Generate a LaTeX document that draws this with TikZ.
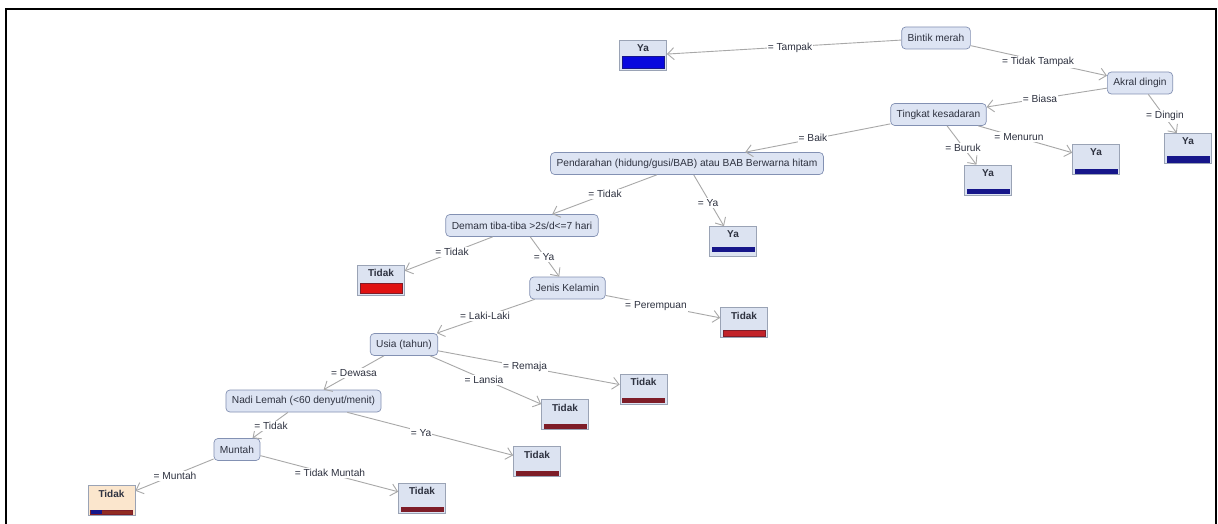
\documentclass[tikz,border=0pt]{standalone}
\usepackage{fontspec}
\setmainfont{Liberation Sans}
\usetikzlibrary{arrows.meta,calc}
\definecolor{decfill}{HTML}{DDE4F3}
\definecolor{decdraw}{HTML}{8391B3}
\definecolor{leafbg}{HTML}{DCE3F1}
\definecolor{leafdraw}{HTML}{9AA3B5}
\definecolor{edgecol}{HTML}{A8A8A8}
\definecolor{navybar}{HTML}{16168A}
\definecolor{bluebar}{HTML}{0808DE}
\definecolor{redbar}{HTML}{E01212}
\definecolor{midred}{HTML}{C2232A}
\definecolor{darkred}{HTML}{7E1D28}
\definecolor{peach}{HTML}{FBE6CD}
\definecolor{txtcol}{HTML}{2E3240}
\newcommand\leafbar[5]{% node, bottom gap, top gap, fill, draw
  \filldraw[fill=#4,draw=#5,line width=0.6pt] ($(#1.south west)+(3,-#2)$) rectangle ($(#1.south east)+(-3,-#3)$);}
\begin{document}
\begin{tikzpicture}[x=1pt,y=-1pt,
  dec/.style={draw=decdraw, fill=decfill, rounded corners=4pt, minimum height=22pt, inner xsep=6pt, font=\fontsize{10.2}{11}\selectfont, text=txtcol, line width=0.7pt},
  leaf/.style={draw=leafdraw, fill=leafbg, minimum width=47pt, minimum height=30pt, inner sep=0pt, line width=0.7pt},
  leaftxt/.style={font=\bfseries\fontsize{10}{11}\selectfont, text=txtcol, anchor=north, inner sep=0pt},
  lab/.style={fill=white, inner sep=1pt, font=\fontsize{10.2}{11}\selectfont, text=txtcol},
  conn/.style={draw=edgecol, line width=0.9pt, -{Straight Barb[length=6.5pt,width=12pt]}},
]
\useasboundingbox (0,0) rectangle (1218,524);
\fill[white] (0,0) rectangle (1218,524);
\draw[line width=2pt] (6,524) -- (6,9.5) -- (1215.5,9.5) -- (1215.5,524);

% decision nodes
\node[dec] (B) at (936,38) {Bintik merah};
\node[dec] (A) at (1140,83) {Akral dingin};
\node[dec] (K) at (938.5,114.5) {Tingkat kesadaran};
\node[dec] (P) at (687,163.5) {Pendarahan (hidung/gusi/BAB) atau BAB Berwarna hitam};
\node[dec] (D) at (522,225.5) {Demam tiba-tiba >2s/d<=7 hari};
\node[dec] (J) at (567.5,288) {Jenis Kelamin};
\node[dec] (U) at (404,344.5) {Usia (tahun)};
\node[dec] (N) at (303.5,401) {Nadi Lemah (<60 denyut/menit)};
\node[dec] (M) at (237,449.5) {Muntah};

% leaves
\node[leaf] (Y1) at (643,55.5) {};
\node[leaf] (Y2) at (1188,148.5) {};
\node[leaf] (Y3) at (1096,159.5) {};
\node[leaf] (Y4) at (988,180) {};
\node[leaf] (Y5) at (733,241.5) {};
\node[leaf] (T1) at (381,280) {};
\node[leaf] (T2) at (744,322.5) {};
\node[leaf] (T3) at (643.5,389) {};
\node[leaf] (T4) at (565,414.5) {};
\node[leaf] (T5) at (537,461.5) {};
\node[leaf] (T6) at (422,498) {};
\node[leaf,fill=peach] (T7) at (111.5,500.5) {};

\foreach \n in {Y1,Y2,Y3,Y4,Y5} \node[leaftxt] at ([yshift=-4.5pt]\n.north) {Ya};
\foreach \n in {T1,T2,T3,T4,T5,T6,T7} \node[leaftxt] at ([yshift=-4.5pt]\n.north) {Tidak};

\leafbar{Y1}{3}{15}{bluebar}{navybar}
\leafbar{Y2}{2}{8}{navybar}{navybar}
\leafbar{Y3}{2}{6}{navybar}{navybar}
\leafbar{Y4}{2}{6}{navybar}{navybar}
\leafbar{Y5}{6}{9.5}{navybar}{navybar}
\leafbar{T1}{2}{12}{redbar}{darkred}
\leafbar{T2}{1.5}{8}{midred}{darkred}
\leafbar{T3}{2}{6}{darkred}{darkred}
\leafbar{T4}{2}{6}{darkred}{darkred}
\leafbar{T5}{2}{6}{darkred}{darkred}
\leafbar{T6}{2}{6}{darkred}{darkred}
\filldraw[fill=darkred!85!orange,draw=darkred,line width=0.6pt] ($(T7.south west)+(3,-2)$) rectangle ($(T7.south east)+(-3,-6)$);
\fill[navybar] ($(T7.south west)+(3.3,-2.3)$) rectangle ($(T7.south west)+(14,-5.7)$);

% connectors
\draw[conn] (B) -- (Y1);
\draw[conn] (B) -- (A);
\draw[conn] (A) -- (K);
\draw[conn] (A) -- (Y2);
\draw[conn] (K) -- (P);
\draw[conn] (K) -- (Y4);
\draw[conn] (K) -- (Y3);
\draw[conn] (P) -- (D);
\draw[conn] (P) -- (Y5);
\draw[conn] (D) -- (T1);
\draw[conn] (D) -- (J);
\draw[conn] (J) -- (U);
\draw[conn] (J) -- (T2);
\draw[conn] (U) -- (N);
\draw[conn] (U) -- (T4);
\draw[conn] (U) -- (T3);
\draw[conn] (N) -- (M);
\draw[conn] (N) -- (T5);
\draw[conn] (M) -- (T7);
\draw[conn] (M) -- (T6);

% labels
\node[lab] (l1) at (790,48) {= Tampak};
\node[lab] (l2) at (1038,62) {= Tidak Tampak};
\node[lab] (l3) at (1040,99) {= Biasa};
\node[lab] (l4) at (1165,116) {= Dingin};
\node[lab] (l5) at (813,138) {= Baik};
\node[lab] (l6) at (963,148) {= Buruk};
\node[lab] (l7) at (1019,137) {= Menurun};
\node[lab] (l8) at (605,194) {= Tidak};
\node[lab] (l9) at (708,203) {= Ya};
\node[lab] (l10) at (452,252) {= Tidak};
\node[lab] (l11) at (544,257) {= Ya};
\node[lab] (l12) at (656,306) {= Perempuan};
\node[lab] (l13) at (485,316) {= Laki-Laki};
\node[lab] (l14) at (525,367) {= Remaja};
\node[lab] (l15) at (484,380) {= Lansia};
\node[lab] (l16) at (354,373) {= Dewasa};
\node[lab] (l17) at (271,426) {= Tidak};
\node[lab] (l18) at (421,433) {= Ya};
\node[lab] (l19) at (175,476) {= Muntah};
\node[lab] (l20) at (330,473) {= Tidak Muntah};
\end{tikzpicture}
\end{document}
